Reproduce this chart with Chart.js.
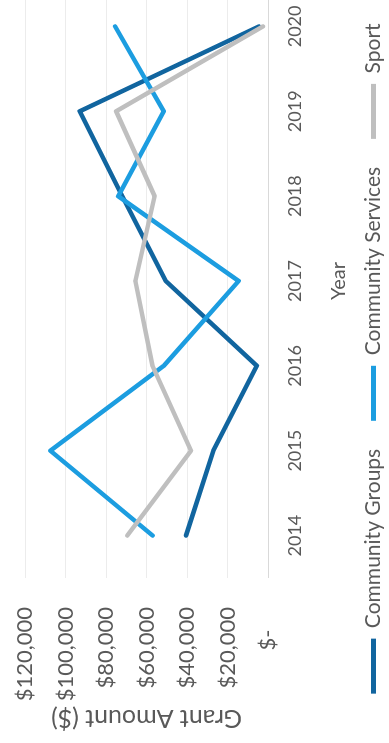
<!DOCTYPE html>
<html>
<head>
<meta charset="utf-8">
<script src="https://cdn.jsdelivr.net/npm/chart.js@4.4.0/dist/chart.umd.min.js"></script>
<style>
html,body{margin:0;padding:0;background:#fff;overflow:hidden;width:389px;height:743px;}
#wrap{position:absolute;left:0;top:0;width:780px;height:389px;transform-origin:0 0;transform:translate(0,743px) rotate(-90deg);}
</style>
</head>
<body>
<div id="wrap"><canvas id="c" width="780" height="389"></canvas></div>
<script>
const years = ['2014', '2015', '2016', '2017', '2018', '2019', '2020'];
const communityGroups = [40500, 27000, 5500, 50500, 72000, 93000, 4500];
const communityServices = [57000, 107500, 51500, 14500, 74000, 51500, 75500];
const sport = [69500, 38000, 57000, 65500, 56000, 75000, 2500];
const yTickValues = [0, 20000, 40000, 60000, 80000, 100000, 120000];
const yTickLabels = ['$-    ', '$20,000', '$40,000', '$60,000', '$80,000', '$100,000', '$120,000'];
const seriesNames = ['Community Groups', 'Community Services', 'Sport'];
const seriesColors = ['#11659f', '#1c9de0', '#bfbfbf'];

const textColor = '#595959';
const fontFamily = 'Lato, "Open Sans", sans-serif';

new Chart(document.getElementById('c'), {
  type: 'line',
  data: {
    labels: years,
    datasets: [
      { label: seriesNames[0], data: communityGroups, borderColor: seriesColors[0], backgroundColor: seriesColors[0], order: 3 },
      { label: seriesNames[1], data: communityServices, borderColor: seriesColors[1], backgroundColor: seriesColors[1], order: 2 },
      { label: seriesNames[2], data: sport, borderColor: seriesColors[2], backgroundColor: seriesColors[2], order: 1 }
    ]
  },
  options: {
    responsive: false,
    animation: false,
    devicePixelRatio: 1,
    elements: {
      line: { borderWidth: 4.5, tension: 0, fill: false, borderCapStyle: 'round', borderJoinStyle: 'round' },
      point: { radius: 0, hoverRadius: 0 }
    },
    layout: { padding: { top: 25, right: 21, left: 10, bottom: -5 } },
    plugins: {
      tooltip: { enabled: false },
      legend: {
        position: 'bottom',
        align: 'center',
        labels: {
          color: textColor,
          font: { family: fontFamily, size: 21 },
          boxWidth: 55,
          boxHeight: 5,
          padding: 28,
          generateLabels: (chart) => chart.data.datasets.map((ds, i) => ({
            text: ds.label,
            fillStyle: ds.borderColor,
            strokeStyle: ds.borderColor,
            lineWidth: 0,
            fontColor: textColor,
            hidden: false,
            datasetIndex: i
          }))
        }
      }
    },
    scales: {
      x: {
        type: 'category',
        offset: true,
        grid: { display: false, drawTicks: false },
        border: { display: true, color: '#d9d9d9', width: 1 },
        afterFit: (scale) => { scale.height = 67; },
        ticks: { color: textColor, font: { family: fontFamily, size: 18 }, padding: 16, maxRotation: 0 },
        title: { display: true, text: 'Year', color: textColor, font: { family: fontFamily, size: 20 }, padding: { top: 0, bottom: -16 } }
      },
      y: {
        min: 0,
        max: 120000,
        grid: { color: '#ececec', lineWidth: 1, drawTicks: false },
        border: { display: false },
        afterBuildTicks: (scale) => { scale.ticks = yTickValues.map(v => ({ value: v })); },
        afterFit: (scale) => { scale.width = 155; scale.paddingTop = 0; scale.paddingBottom = 0; },
        ticks: {
          color: textColor,
          font: { family: fontFamily, size: 22 },
          padding: 29,
          callback: (v) => yTickLabels[yTickValues.indexOf(v)]
        },
        title: { display: true, text: 'Grant Amount ($)', color: textColor, font: { family: fontFamily, size: 25 }, padding: { top: 0, bottom: 6 } }
      }
    }
  }
});
</script>
</body>
</html>
